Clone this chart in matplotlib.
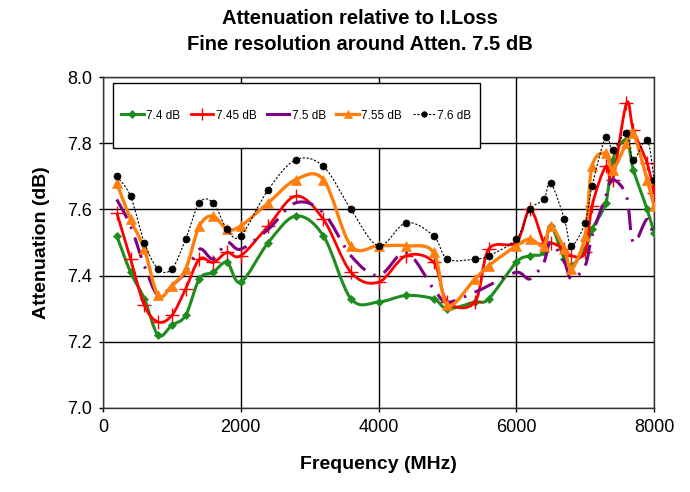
import matplotlib
matplotlib.use("Agg")
import matplotlib.pyplot as plt
import numpy as np
from matplotlib.path import Path
from matplotlib.patches import PathPatch, Rectangle
from matplotlib.lines import Line2D

plt.rcParams['font.family'] = ['Liberation Sans', 'DejaVu Sans']

freq = [200, 400, 600, 800, 1000, 1200, 1400, 1600, 1800, 2000, 2400, 2800, 3200,
        3600, 4000, 4400, 4800, 5000, 5400, 5600, 6000, 6200, 6400, 6500, 6700,
        6800, 7000, 7100, 7300, 7400, 7600, 7700, 7900, 8000]

att_740 = [7.52, 7.41, 7.33, 7.22, 7.25, 7.28, 7.39, 7.41, 7.44, 7.38, 7.50, 7.58, 7.52,
           7.33, 7.32, 7.34, 7.33, 7.30, 7.32, 7.33, 7.44, 7.46, 7.47, 7.55, 7.45,
           7.43, 7.48, 7.54, 7.62, 7.75, 7.81, 7.72, 7.60, 7.53]
att_745 = [7.59, 7.45, 7.31, 7.26, 7.28, 7.36, 7.45, 7.44, 7.47, 7.46, 7.55, 7.64, 7.57,
           7.41, 7.38, 7.46, 7.44, 7.32, 7.32, 7.48, 7.50, 7.60, 7.50, 7.50, 7.48,
           7.46, 7.47, 7.61, 7.73, 7.69, 7.92, 7.84, 7.74, 7.65]
att_750 = [7.63, 7.55, 7.43, 7.34, 7.37, 7.41, 7.48, 7.45, 7.50, 7.48, 7.54, 7.62, 7.59,
           7.46, 7.40, 7.47, 7.36, 7.32, 7.35, 7.37, 7.41, 7.39, 7.44, 7.50, 7.44,
           7.39, 7.43, 7.52, 7.64, 7.69, 7.64, 7.50, 7.57, 7.51]
att_755 = [7.68, 7.57, 7.48, 7.34, 7.37, 7.42, 7.55, 7.58, 7.54, 7.55, 7.62, 7.69, 7.69,
           7.49, 7.49, 7.49, 7.47, 7.31, 7.39, 7.43, 7.49, 7.51, 7.49, 7.55, 7.48,
           7.42, 7.52, 7.73, 7.77, 7.72, 7.80, 7.83, 7.69, 7.61]
att_760 = [7.70, 7.64, 7.50, 7.42, 7.42, 7.51, 7.62, 7.62, 7.54, 7.52, 7.66, 7.75, 7.73,
           7.60, 7.49, 7.56, 7.52, 7.45, 7.45, 7.46, 7.51, 7.60, 7.63, 7.68, 7.57,
           7.49, 7.56, 7.67, 7.82, 7.78, 7.83, 7.75, 7.81, 7.69]

labels = ['7.4 dB', '7.45 dB', '7.5 dB', '7.55 dB', '7.6 dB']


def smooth_path(x, y):
    # excel-like smoothed line: bezier segments through every point
    p = np.column_stack([x, y]).astype(float)
    pts = np.vstack([p[0], p, p[-1]])
    verts = [p[0]]
    codes = [Path.MOVETO]
    for i in range(1, len(pts) - 2):
        c1 = pts[i] + (pts[i + 1] - pts[i - 1]) / 6.0
        c2 = pts[i + 1] - (pts[i + 2] - pts[i]) / 6.0
        verts += [c1, c2, pts[i + 1]]
        codes += [Path.CURVE4] * 3
    return Path(verts, codes)


fig = plt.figure(figsize=(6.9, 4.92), dpi=100)
ax = fig.add_axes([103 / 690, 1 - 408 / 492, 551 / 690, 331 / 492])

styles = [
    dict(color='#1e8c1e', lw=2.2, ls='-', marker='D', ms=4.5, mew=0.5),
    dict(color='#ff0000', lw=2.0, ls='-', marker='+', ms=10, mew=1.0),
    dict(color='#800080', lw=2.2, ls=(0, (7, 3, 0.8, 3)), marker=None, ms=0, mew=0),
    dict(color='#ff7f0e', lw=2.4, ls='-', marker='^', ms=7, mew=0.5),
    dict(color='#000000', lw=0.8, ls=(0, (2, 1.5)), marker='o', ms=5, mew=0.5),
]
series = [att_740, att_745, att_750, att_755, att_760]

handles = []
for k, (vals, st) in enumerate(zip(series, styles)):
    patch = PathPatch(smooth_path(freq, vals), facecolor='none', edgecolor=st['color'],
                      lw=st['lw'], linestyle=st['ls'], zorder=3 + k, capstyle='butt')
    ax.add_patch(patch)
    if st['marker']:
        ax.plot(freq, vals, linestyle='none', marker=st['marker'], ms=st['ms'],
                color=st['color'], mec=st['color'], mew=st['mew'], zorder=3 + k)
    handles.append(Line2D([], [], color=st['color'], lw=st['lw'] if k != 4 else 0.8,
                          linestyle='-' if k != 4 else (0, (2, 1.5)),
                          marker=st['marker'], ms=st['ms'] * 0.8, mew=st['mew']))

ax.set_xlim(0, 8000)
ax.set_ylim(7.0, 8.0)
ax.set_xticks([0, 2000, 4000, 6000, 8000])
ax.set_yticks(np.arange(7.0, 8.01, 0.2))
ax.set_yticklabels(['%.1f' % v for v in np.arange(7.0, 8.01, 0.2)])
ax.grid(True, color='black', lw=1.0)
ax.set_axisbelow(True)
ax.tick_params(labelsize=13, length=3, width=1, direction='out', pad=5)
for s in ax.spines.values():
    s.set_color('#333333')
    s.set_linewidth(1.0)

ax.set_xlabel('Frequency (MHz)', fontsize=14, fontweight='bold', labelpad=14)
ax.set_ylabel('Attenuation (dB)', fontsize=14, fontweight='bold', labelpad=12)

# legend box
box = Rectangle((0.018, 0.785), 0.666, 0.197, transform=ax.transAxes,
                facecolor='white', edgecolor='black', lw=1.0, zorder=10)
ax.add_patch(box)
leg = ax.legend(handles, labels, loc='center', bbox_to_anchor=(0.351, 0.8835),
                ncol=5, frameon=False, fontsize=8.5, handlelength=1.9,
                handletextpad=0.2, columnspacing=0.9, borderpad=0.2)
leg.set_zorder(11)

fig.text(360 / 690, 1 - 18 / 492, 'Attenuation relative to I.Loss', ha='center',
         va='center', fontsize=14.5, fontweight='bold')
fig.text(360 / 690, 1 - 45 / 492, 'Fine resolution around Atten. 7.5 dB', ha='center',
         va='center', fontsize=14.5, fontweight='bold')

fig.savefig('out.png', dpi=100)
